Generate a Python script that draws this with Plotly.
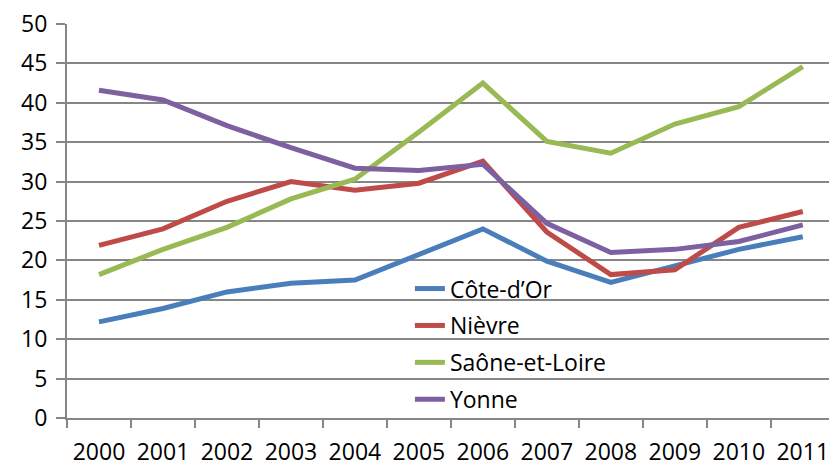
import plotly.graph_objects as go

years = ["2000", "2001", "2002", "2003", "2004", "2005",
         "2006", "2007", "2008", "2009", "2010", "2011"]

cote_dor = [12.2, 13.9, 16.0, 17.1, 17.5, 20.8, 24.0, 19.9, 17.2, 19.3, 21.4, 23.0]
nievre = [21.9, 24.0, 27.5, 30.0, 28.9, 29.8, 32.6, 23.6, 18.2, 18.8, 24.2, 26.2]
saone_et_loire = [18.2, 21.4, 24.2, 27.8, 30.3, 36.3, 42.5, 35.1, 33.6, 37.3, 39.5, 44.6]
yonne = [41.6, 40.35, 37.1, 34.3, 31.7, 31.4, 32.2, 24.7, 21.0, 21.4, 22.4, 24.5]

series = [
    ("Côte-d’Or", cote_dor, "#4A7EBB"),
    ("Nièvre", nievre, "#BE4B48"),
    ("Saône-et-Loire", saone_et_loire, "#98B954"),
    ("Yonne", yonne, "#7D60A0"),
]

y_ticks = list(range(0, 51, 5))

fig = go.Figure()
for i, (name, vals, color) in enumerate(series):
    fig.add_trace(go.Scatter(
        x=years, y=vals, name=name, mode="lines",
        line=dict(color=color, width=5),
        legendgroup=f"g{i}",
    ))

font = "Open Sans, Liberation Sans, sans-serif"
fig.update_layout(
    width=829, height=467,
    margin=dict(l=67, r=0, t=24, b=47),
    paper_bgcolor="white", plot_bgcolor="white",
    font=dict(family=font, size=23, color="black"),
    showlegend=True,
    legend=dict(
        x=0.45, y=0.383, xanchor="left", yanchor="top",
        bgcolor="rgba(0,0,0,0)", borderwidth=0,
        tracegroupgap=4,
        font=dict(family=font, size=23, color="black"),
    ),
    xaxis=dict(
        type="category", range=[-0.5, 11.41],
        tickson="boundaries", ticks="outside", ticklen=8,
        tickcolor="#868686", tickwidth=2,
        showline=True, linecolor="#868686", linewidth=2,
        showgrid=False, zeroline=False,
        ticklabelstandoff=12,
        tickfont=dict(family=font, size=23),
    ),
    yaxis=dict(
        range=[0, 50], tickmode="array", tickvals=y_ticks,
        ticks="outside", ticklen=9, tickcolor="#868686", tickwidth=2,
        showline=True, linecolor="#868686", linewidth=2,
        showgrid=True, gridcolor="#868686", gridwidth=1.5,
        zeroline=False,
        ticklabelstandoff=4,
        tickfont=dict(family=font, size=23),
    ),
)

fig.write_html("out.html")
